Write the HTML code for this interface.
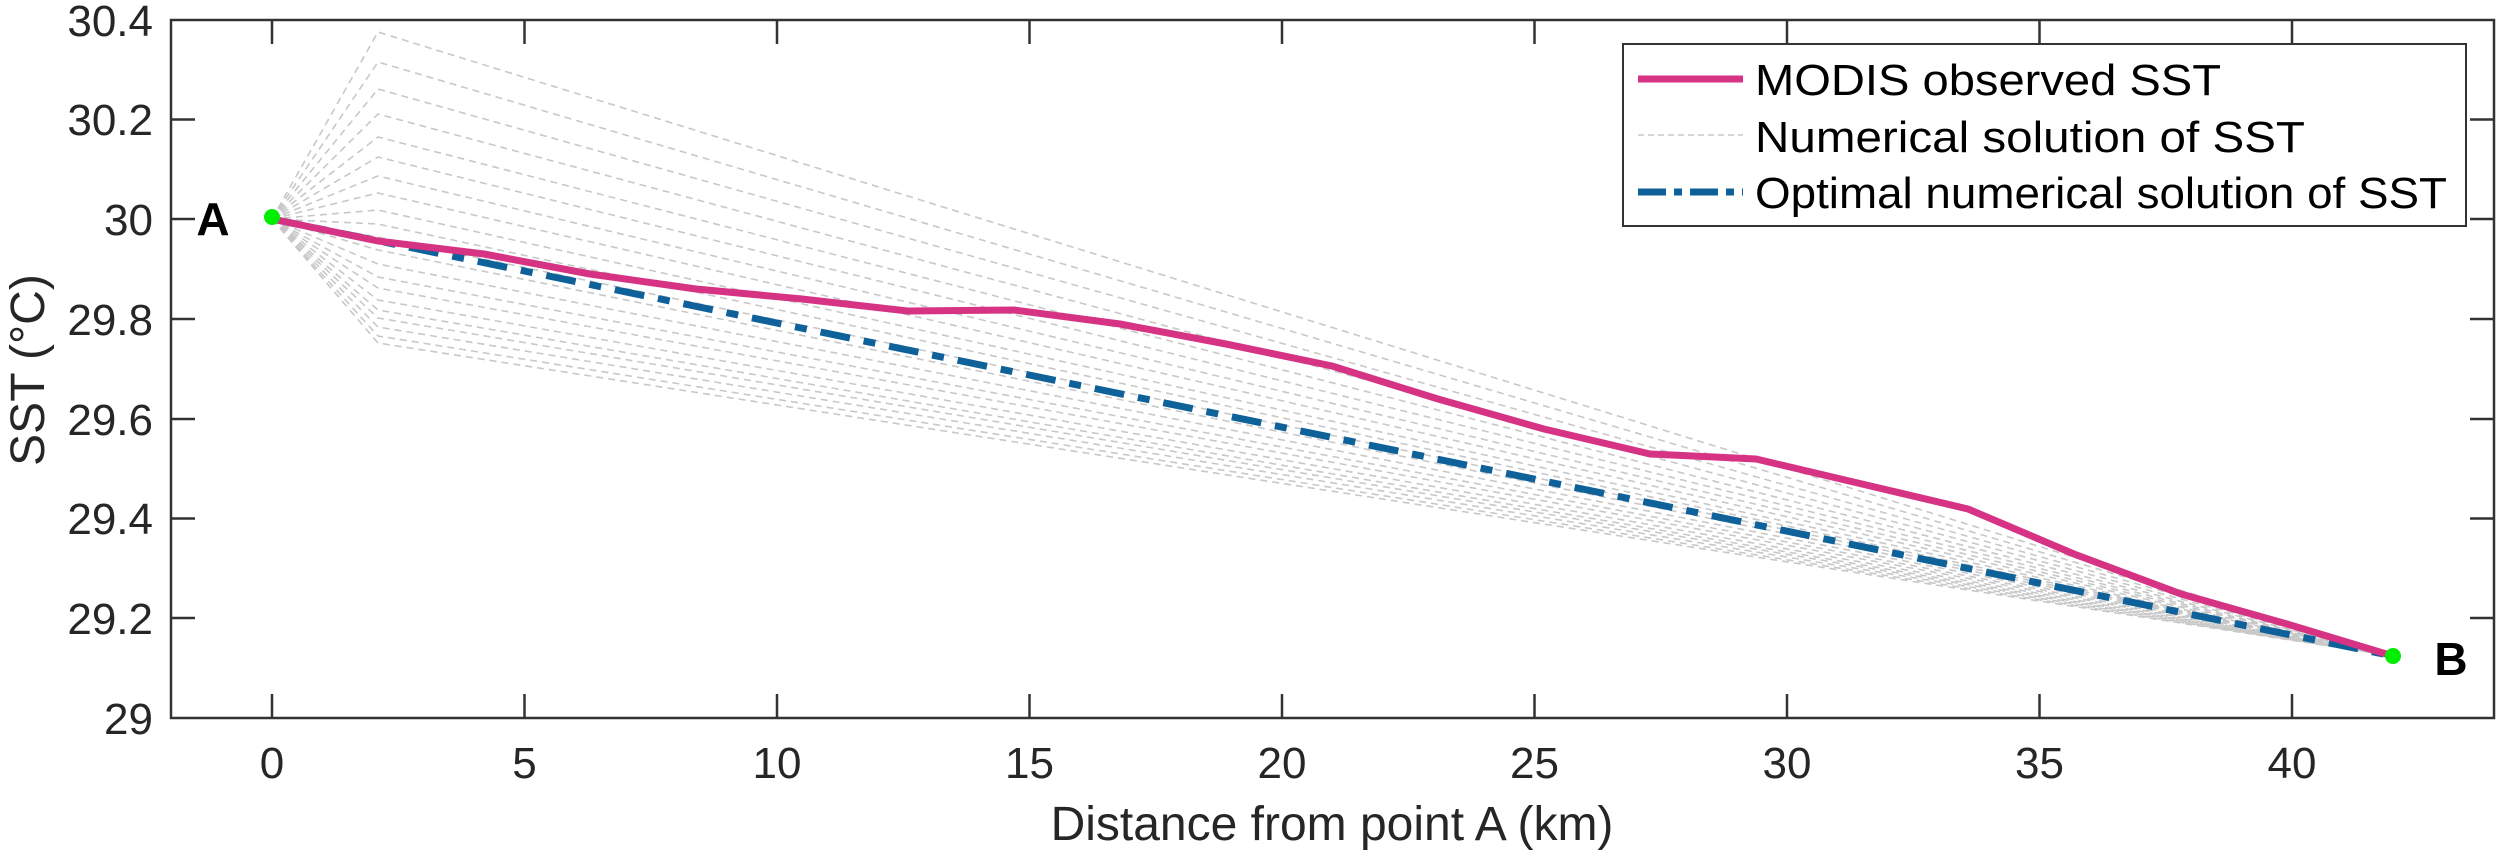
<!DOCTYPE html>
<html><head><meta charset="utf-8"><style>
html,body{margin:0;padding:0;background:#fff;}
svg{display:block;font-family:"Liberation Sans",Helvetica,Arial,sans-serif;}
</style></head><body>
<svg width="2500" height="855" viewBox="0 0 2500 855" xmlns="http://www.w3.org/2000/svg">
<rect width="2500" height="855" fill="#fff"/>
<g id="num" fill="none" stroke="#c8c8c8" stroke-width="1.6" stroke-dasharray="7,5">
<polyline points="272,219 378,32 2393,656"/>
<polyline points="272,219 378,62 2393,656"/>
<polyline points="272,219 378,89 2393,656"/>
<polyline points="272,219 378,114 2393,656"/>
<polyline points="272,219 378,137 2393,656"/>
<polyline points="272,219 378,157 2393,656"/>
<polyline points="272,219 378,176 2393,656"/>
<polyline points="272,219 378,193 2393,656"/>
<polyline points="272,219 378,210 2393,656"/>
<polyline points="272,219 378,224 2393,656"/>
<polyline points="272,219 378,237 2393,656"/>
<polyline points="272,219 378,250 2393,656"/>
<polyline points="272,219 378,264 2393,656"/>
<polyline points="272,219 378,277 2393,656"/>
<polyline points="272,219 378,288 2393,656"/>
<polyline points="272,219 378,300 2393,656"/>
<polyline points="272,219 378,310 2393,656"/>
<polyline points="272,219 378,318 2393,656"/>
<polyline points="272,219 378,327 2393,656"/>
<polyline points="272,219 378,336 2393,656"/>
<polyline points="272,219 378,343 2393,656"/>
</g>
<line x1="272" y1="219" x2="2393" y2="656" stroke="#0f6199" stroke-width="7" stroke-dasharray="30,14,12,14"/>
<polyline fill="none" stroke="#d63384" stroke-width="7" stroke-linejoin="round" points="272,219 378,241 484,254 590,274 696,289 802,299 908,311 1014,310 1120,324 1226,344 1332,366 1438,399 1544,429 1650,454 1756,459 1862,484 1968,509 2074,554 2181,594 2287,624 2393,656"/>
<circle cx="272" cy="217" r="8" fill="#00ee00"/>
<circle cx="2393" cy="656" r="8" fill="#00ee00"/>
<text x="213" y="235" font-size="46" font-weight="bold" text-anchor="middle" fill="#000">A</text>
<text x="2451" y="675" font-size="46" font-weight="bold" text-anchor="middle" fill="#000">B</text>
<!-- axes -->
<rect x="171" y="20" width="2323" height="698" fill="none" stroke="#333" stroke-width="2.5"/>
<g stroke="#333" stroke-width="2.5">
<line x1="272" y1="718" x2="272" y2="694"/><line x1="272" y1="20" x2="272" y2="44"/>
<line x1="524.5" y1="718" x2="524.5" y2="694"/><line x1="524.5" y1="20" x2="524.5" y2="44"/>
<line x1="777" y1="718" x2="777" y2="694"/><line x1="777" y1="20" x2="777" y2="44"/>
<line x1="1029.5" y1="718" x2="1029.5" y2="694"/><line x1="1029.5" y1="20" x2="1029.5" y2="44"/>
<line x1="1282" y1="718" x2="1282" y2="694"/><line x1="1282" y1="20" x2="1282" y2="44"/>
<line x1="1534.5" y1="718" x2="1534.5" y2="694"/><line x1="1534.5" y1="20" x2="1534.5" y2="44"/>
<line x1="1787" y1="718" x2="1787" y2="694"/><line x1="1787" y1="20" x2="1787" y2="44"/>
<line x1="2039.5" y1="718" x2="2039.5" y2="694"/><line x1="2039.5" y1="20" x2="2039.5" y2="44"/>
<line x1="2292" y1="718" x2="2292" y2="694"/><line x1="2292" y1="20" x2="2292" y2="44"/>
<line x1="171" y1="119.5" x2="195" y2="119.5"/><line x1="2494" y1="119.5" x2="2470" y2="119.5"/>
<line x1="171" y1="219" x2="195" y2="219"/><line x1="2494" y1="219" x2="2470" y2="219"/>
<line x1="171" y1="319" x2="195" y2="319"/><line x1="2494" y1="319" x2="2470" y2="319"/>
<line x1="171" y1="419" x2="195" y2="419"/><line x1="2494" y1="419" x2="2470" y2="419"/>
<line x1="171" y1="518.5" x2="195" y2="518.5"/><line x1="2494" y1="518.5" x2="2470" y2="518.5"/>
<line x1="171" y1="618" x2="195" y2="618"/><line x1="2494" y1="618" x2="2470" y2="618"/>
</g>
<g font-size="44" fill="#262626" text-anchor="end">
<text x="153" y="36">30.4</text>
<text x="153" y="135">30.2</text>
<text x="153" y="235">30</text>
<text x="153" y="335">29.8</text>
<text x="153" y="435">29.6</text>
<text x="153" y="534">29.4</text>
<text x="153" y="634">29.2</text>
<text x="153" y="734">29</text>
</g>
<g font-size="44" fill="#262626" text-anchor="middle">
<text x="272" y="778">0</text>
<text x="524.5" y="778">5</text>
<text x="777" y="778">10</text>
<text x="1029.5" y="778">15</text>
<text x="1282" y="778">20</text>
<text x="1534.5" y="778">25</text>
<text x="1787" y="778">30</text>
<text x="2039.5" y="778">35</text>
<text x="2292" y="778">40</text>
</g>
<text x="1332" y="840" font-size="48" fill="#262626" text-anchor="middle">Distance from point A (km)</text>
<text transform="translate(44,370) rotate(-90)" font-size="48" fill="#262626" text-anchor="middle">SST (°C)</text>
<!-- legend -->
<rect x="1623" y="44" width="843" height="182" fill="#fff" stroke="#333" stroke-width="2"/>
<line x1="1638" y1="79" x2="1743" y2="79" stroke="#d63384" stroke-width="7"/>
<line x1="1638" y1="135" x2="1743" y2="135" stroke="#c8c8c8" stroke-width="1.6" stroke-dasharray="6,4"/>
<line x1="1638" y1="192" x2="1743" y2="192" stroke="#0f6199" stroke-width="7" stroke-dasharray="28,8,8,8"/>
<g font-size="44" fill="#000">
<text x="1755" y="95" textLength="466" lengthAdjust="spacingAndGlyphs">MODIS observed SST</text>
<text x="1755" y="152" textLength="550" lengthAdjust="spacingAndGlyphs">Numerical solution of SST</text>
<text x="1755" y="208" textLength="692" lengthAdjust="spacingAndGlyphs">Optimal numerical solution of SST</text>
</g>
</svg>
</body></html>
